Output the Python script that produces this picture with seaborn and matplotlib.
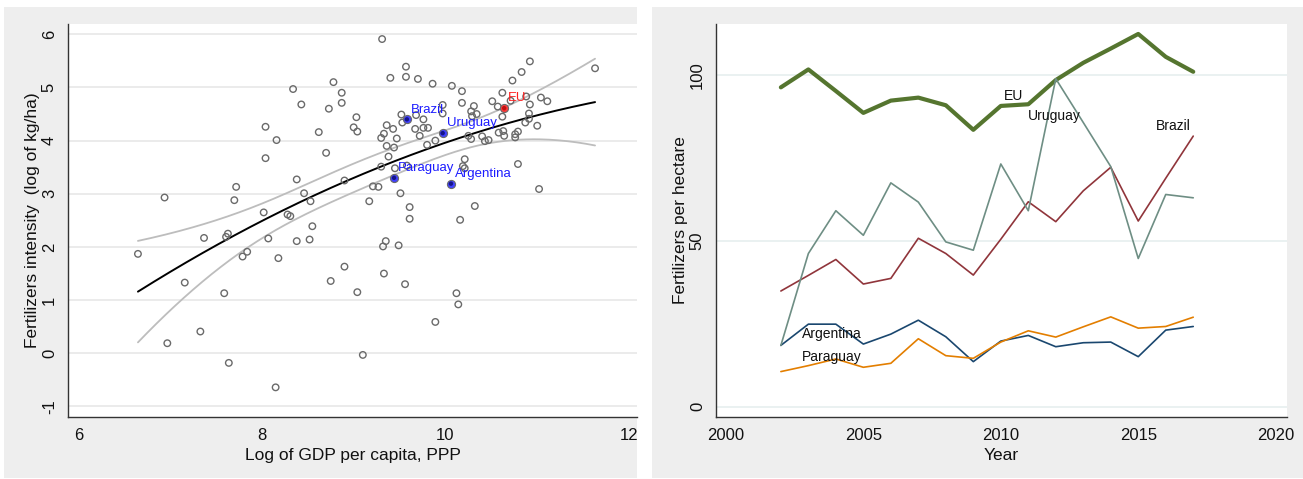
import numpy as np
import pandas as pd
import matplotlib
matplotlib.use("Agg")
import matplotlib.pyplot as plt
from matplotlib.patches import Rectangle
import seaborn as sns

# ---- Cross-country data: log GDP per capita (PPP) vs log fertilizer use (kg/ha)
gdp_log = [6.65, 6.94, 6.97, 7.16, 7.33, 7.37, 7.59, 7.61, 7.63, 7.64,
           7.70, 7.72, 7.79, 7.84, 8.02, 8.04, 8.04, 8.07, 8.15, 8.16,
           8.18, 8.28, 8.31, 8.34, 8.38, 8.38, 8.43, 8.46, 8.52, 8.53,
           8.55, 8.62, 8.70, 8.73, 8.75, 8.78, 8.87, 8.87, 8.90, 8.90,
           9.00, 9.03, 9.04, 9.04, 9.10, 9.17, 9.21, 9.27, 9.30, 9.30,
           9.31, 9.32, 9.33, 9.33, 9.35, 9.36, 9.36, 9.38, 9.40, 9.43,
           9.44, 9.45, 9.47, 9.49, 9.51, 9.52, 9.53, 9.56, 9.57, 9.57,
           9.58, 9.61, 9.61, 9.67, 9.68, 9.70, 9.72, 9.76, 9.76, 9.80,
           9.81, 9.86, 9.89, 9.89, 9.97, 9.97, 10.07, 10.12, 10.14, 10.16,
           10.18, 10.18, 10.19, 10.21, 10.21, 10.25, 10.28, 10.28, 10.29, 10.31,
           10.32, 10.34, 10.40, 10.43, 10.47, 10.51, 10.57, 10.58, 10.62, 10.62,
           10.63, 10.64, 10.71, 10.73, 10.76, 10.76, 10.79, 10.79, 10.83, 10.87,
           10.88, 10.91, 10.91, 10.92, 10.92, 11.00, 11.02, 11.04, 11.11, 11.63]
fert_log = [1.87, 2.93, 0.19, 1.33, 0.41, 2.17, 1.13, 2.19, 2.25, -0.18,
            2.88, 3.13, 1.82, 1.91, 2.65, 4.26, 3.67, 2.16, -0.64, 4.01,
            1.79, 2.61, 2.58, 4.97, 3.27, 2.11, 4.68, 3.01, 2.14, 2.86,
            2.39, 4.16, 3.77, 4.60, 1.36, 5.10, 4.71, 4.90, 3.25, 1.63,
            4.25, 4.44, 4.17, 1.15, -0.03, 2.86, 3.14, 3.13, 3.51, 4.05,
            5.91, 2.01, 4.13, 1.50, 2.11, 4.29, 3.90, 3.70, 5.18, 4.22,
            3.87, 3.48, 4.04, 2.03, 3.01, 4.49, 4.34, 1.30, 5.20, 5.39,
            3.53, 2.53, 2.75, 4.22, 4.48, 5.16, 4.09, 4.40, 4.24, 3.92,
            4.24, 5.07, 4.00, 0.59, 4.67, 4.51, 5.03, 1.13, 0.92, 2.51,
            4.93, 4.71, 3.52, 3.65, 3.48, 4.09, 4.03, 4.55, 4.46, 4.65,
            2.77, 4.50, 4.08, 3.99, 4.01, 4.74, 4.64, 4.15, 4.90, 4.45,
            4.18, 4.09, 4.75, 5.13, 4.12, 4.06, 4.17, 3.56, 5.29, 4.34,
            4.83, 4.41, 4.51, 5.49, 4.68, 4.28, 3.09, 4.81, 4.74, 5.36]

# Highlighted economies
hl_names = ["Brazil", "Uruguay", "Paraguay", "Argentina", "EU"]
hl_gdp = [9.58, 9.97, 9.44, 10.06, 10.64]
hl_fert = [4.40, 4.14, 3.30, 3.19, 4.61]

# ---- Time series: fertilizers per hectare
years = list(range(2002, 2018))
eu = [96.3, 101.7, 95.2, 88.6, 92.3, 93.2, 90.9, 83.5, 90.7, 91.2, 98.5, 103.7, 108.0, 112.4, 105.5, 101.0]
brazil = [34.9, 39.6, 44.4, 37.0, 38.7, 50.8, 46.2, 39.7, 50.5, 61.8, 55.8, 65.1, 72.2, 56.0, 68.9, 81.6]
uruguay = [18.5, 46.2, 59.1, 51.7, 67.5, 61.7, 49.7, 47.2, 73.2, 59.1, 98.9, 85.7, 72.4, 44.7, 64.0, 63.0]
argentina = [18.5, 24.9, 24.9, 18.9, 21.9, 26.1, 21.1, 13.6, 19.8, 21.5, 18.1, 19.3, 19.5, 15.1, 23.1, 24.2]
paraguay = [10.6, 12.4, 14.4, 11.9, 13.1, 20.5, 15.4, 14.6, 19.5, 22.9, 21.0, 24.1, 27.1, 23.7, 24.2, 27.0]

sns.set_theme(style="white")
plt.rcParams["font.family"] = ["Liberation Sans", "DejaVu Sans"]
plt.rcParams["axes.unicode_minus"] = False

W, H = 1303, 479
fig = plt.figure(figsize=(W / 100, H / 100), dpi=100)
fig.patch.set_facecolor("white")

panel_gray = "#eeeeee"
for x0, x1 in [(4, 637), (652, 1303)]:
    fig.patches.append(Rectangle((x0 / W, 1 / H), (x1 - x0) / W, 471 / H,
                                 transform=fig.transFigure, facecolor=panel_gray,
                                 edgecolor="none", zorder=-10))


def px_axes(left, right, top, bottom):
    return fig.add_axes([left / W, (H - bottom) / H, (right - left) / W, (bottom - top) / H])


def style_axes(ax, grid_color):
    ax.set_facecolor("white")
    for side in ["top", "right"]:
        ax.spines[side].set_visible(False)
    for side in ["left", "bottom"]:
        ax.spines[side].set_color("#333333")
        ax.spines[side].set_linewidth(1.0)
    ax.tick_params(axis="both", direction="out", length=5, width=1, color="#333333",
                   labelsize=12, labelcolor="#111111", pad=3)
    ax.tick_params(axis="y", labelrotation=90)
    ax.grid(False)
    for yv in ax.get_yticks():
        ax.axhline(yv, color=grid_color, lw=1.1, zorder=0)


# ---------------- Left panel: scatter with quadratic fit ----------------
ax1 = px_axes(68, 637, 24, 416.7)
ax1.set_xlim(5.888, 12.087)
ax1.set_ylim(-1.192, 6.193)
ax1.set_xticks([6, 8, 10, 12])
ax1.set_yticks([-1, 0, 1, 2, 3, 4, 5, 6])
style_axes(ax1, "#e6e6e6")
for lab in ax1.get_yticklabels():
    lab.set_va("center")

pts = pd.DataFrame({"gdp": gdp_log + hl_gdp, "fert": fert_log + hl_fert})

# Quadratic fit with 95% confidence band of the mean prediction
x = pts["gdp"].to_numpy()
y = pts["fert"].to_numpy()
X = np.column_stack([np.ones_like(x), x, x ** 2])
beta, *_ = np.linalg.lstsq(X, y, rcond=None)
resid = y - X @ beta
s2 = resid @ resid / (len(x) - 3)
cov = s2 * np.linalg.inv(X.T @ X)
xg = np.linspace(x.min(), x.max(), 200)
Xg = np.column_stack([np.ones_like(xg), xg, xg ** 2])
pred = Xg @ beta
se = np.sqrt(np.einsum("ij,jk,ik->i", Xg, cov, Xg))
fit = pd.DataFrame({"gdp": xg, "fit": pred, "lo": pred - 1.978 * se, "hi": pred + 1.978 * se})

sns.lineplot(data=fit, x="gdp", y="hi", ax=ax1, color="#bdbdbd", lw=1.3, zorder=2)
sns.lineplot(data=fit, x="gdp", y="lo", ax=ax1, color="#bdbdbd", lw=1.3, zorder=2)
sns.lineplot(data=fit, x="gdp", y="fit", ax=ax1, color="black", lw=1.4, zorder=3)

base = pd.DataFrame({"gdp": gdp_log, "fert": fert_log})
sns.scatterplot(data=base, x="gdp", y="fert", ax=ax1, marker="o", s=22,
                facecolor="none", edgecolor="#6a6a6a", linewidth=1.0, zorder=4)

hl = pd.DataFrame({"name": hl_names, "gdp": hl_gdp, "fert": hl_fert})
for _, r in hl.iterrows():
    ring = "#ff3b3b" if r["name"] == "EU" else "#4040ff"
    core = "#c01010" if r["name"] == "EU" else "#14148a"
    ax1.scatter([r["gdp"]], [r["fert"]], s=34, facecolor=ring, edgecolor="#6a6a6a",
                linewidth=0.8, zorder=5)
    ax1.scatter([r["gdp"]], [r["fert"]], s=10, facecolor=core, edgecolor="none", zorder=6)
    ax1.annotate(r["name"], (r["gdp"], r["fert"]), xytext=(3, 7), textcoords="offset points",
                 ha="left", va="center", fontsize=9.5,
                 color="#ff2020" if r["name"] == "EU" else "#1c1cff", zorder=7)

ax1.set_xlabel("Log of GDP per capita, PPP", fontsize=12.5, color="#111111", labelpad=4)
ax1.set_ylabel("Fertilizers intensity  (log of kg/ha)", fontsize=12.5, color="#111111", labelpad=1)

# ---------------- Right panel: fertilizers per hectare over time ----------------
ax2 = px_axes(716, 1286.7, 24, 416.7)
ax2.set_xlim(1999.64, 2020.4)
ax2.set_ylim(-3.0, 115.4)
ax2.set_xticks([2000, 2005, 2010, 2015, 2020])
ax2.set_yticks([0, 50, 100])
style_axes(ax2, "#e4eeee")
for lab in ax2.get_yticklabels():
    lab.set_va("center")

ts = pd.DataFrame({"year": years, "EU": eu, "Brazil": brazil, "Uruguay": uruguay,
                   "Argentina": argentina, "Paraguay": paraguay})
series_style = [("EU", "#55752f", 3.0), ("Brazil", "#90353b", 1.2),
                ("Argentina", "#1a476f", 1.2), ("Paraguay", "#e37e00", 1.2),
                ("Uruguay", "#6e8e84", 1.2)]
for name, color, lw in series_style:
    sns.lineplot(data=ts, x="year", y=name, ax=ax2, color=color, lw=lw, zorder=3)

series_labels = [("EU", 2010.45, 93.7), ("Uruguay", 2011.96, 87.6), ("Brazil", 2016.27, 84.7),
                 ("Argentina", 2003.84, 21.9), ("Paraguay", 2003.84, 14.9)]
for name, lx, ly in series_labels:
    ax2.text(lx, ly, name, ha="center", va="center", fontsize=10, color="#111111", zorder=6)

ax2.set_xlabel("Year", fontsize=12.5, color="#111111", labelpad=4)
ax2.set_ylabel("Fertilizers per hectare", fontsize=12.5, color="#111111", labelpad=1)

fig.savefig("out.png", dpi=100, facecolor="white")
